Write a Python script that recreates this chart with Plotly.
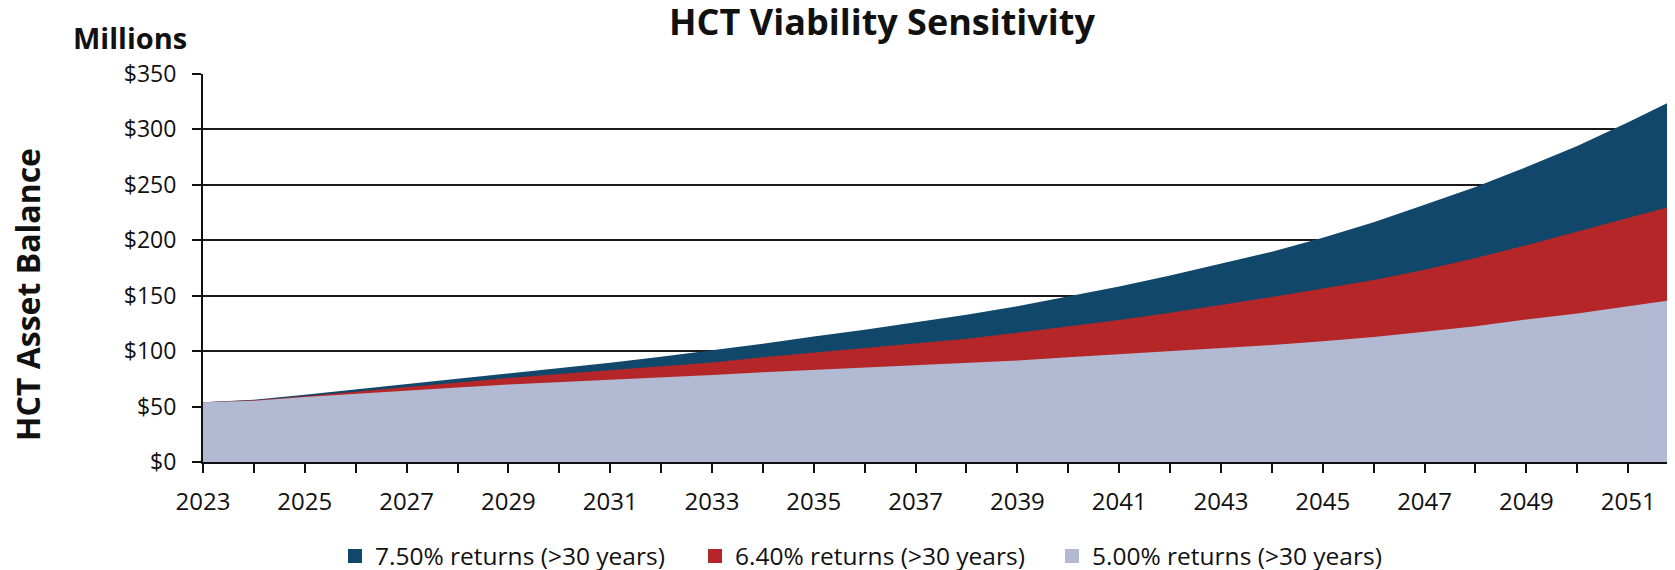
import plotly.graph_objects as go

years = list(range(2023, 2053))

returns_750 = [54.0, 56.2, 60.7, 65.5, 70.1, 74.6, 79.4, 84.5, 89.6, 95.0,
               100.5, 106.6, 113.3, 119.3, 126.0, 132.9, 140.6, 149.3, 158.4, 168.2,
               178.7, 189.7, 202.2, 216.3, 232.0, 248.0, 266.0, 285.0, 306.5, 329.0]
returns_640 = [54.0, 55.6, 59.2, 63.4, 67.6, 71.3, 75.8, 79.4, 83.0, 86.3,
               89.8, 94.6, 98.8, 102.7, 106.6, 111.2, 116.5, 122.2, 128.2, 134.6,
               141.5, 148.9, 156.5, 164.2, 173.5, 184.0, 195.5, 208.0, 220.5, 232.5]
returns_500 = [54.0, 55.3, 58.6, 61.6, 64.9, 67.3, 69.8, 71.9, 74.0, 75.8,
               78.4, 81.0, 83.1, 85.2, 87.0, 89.1, 91.5, 94.5, 97.2, 99.6,
               102.5, 105.5, 109.0, 112.7, 117.5, 122.5, 128.5, 134.0, 140.5, 147.0]

series_names = ["7.50% returns (>30 years)", "6.40% returns (>30 years)", "5.00% returns (>30 years)"]
series_values = [returns_750, returns_640, returns_500]
series_colors = ["#11476A", "#B42627", "#B2B9D2"]

OFF = 8  # page body margin
W, H = 1675 - OFF, 570 - OFF
L, R, T, B = 203 - OFF, 0, 74 - OFF, H - (462 - OFF)
PW, PH = W - L - R, H - T - B

def px_x(sx):
    return (sx - OFF - L) / PW

def px_y(sy):
    return (H - B - (sy - OFF)) / PH

TICK_FONT = dict(family="Open Sans", size=24, color="#111")
LEG_FONT = dict(family="Open Sans", size=24.5, color="#111")

fig = go.Figure()
legend_ids = ["legend", "legend2", "legend3"]
for name, vals, col in zip(series_names, series_values, series_colors):
    fig.add_trace(go.Scatter(
        x=years, y=vals, mode="lines", fill="tozeroy",
        fillcolor=col, line=dict(width=0, color=col),
        name=name, showlegend=False, hoverinfo="x+y+name"))
for name, col, lid in zip(series_names, series_colors, legend_ids):
    fig.add_trace(go.Scatter(
        x=[None], y=[None], mode="markers", name=name, legend=lid,
        marker=dict(symbol="square", size=14, color=col), showlegend=True))

legend_left_screen = [335, 695, 1052]
common_legend = dict(orientation="h", yanchor="middle", xanchor="left",
                     xref="container", yref="container",
                     font=LEG_FONT, bgcolor="rgba(0,0,0,0)", borderwidth=0)
leg_y = 1 - (556 - OFF) / H

fig.update_layout(
    width=W, height=H,
    margin=dict(l=L, r=R, t=T, b=B, pad=0, autoexpand=False),
    paper_bgcolor="white", plot_bgcolor="white",
    title=dict(text="<b>HCT Viability Sensitivity</b>", x=(882 - OFF) / W, xanchor="center",
               y=1 - (22 - OFF) / H, yanchor="middle", xref="container", yref="container",
               font=dict(family="Open Sans", size=36, color="#111")),
    legend=dict(x=(legend_left_screen[0] - OFF) / W, y=leg_y, **common_legend),
    legend2=dict(x=(legend_left_screen[1] - OFF) / W, y=leg_y, **common_legend),
    legend3=dict(x=(legend_left_screen[2] - OFF) / W, y=leg_y, **common_legend),
    xaxis=dict(range=[2023, 2051.92], tickmode="linear", tick0=2023, dtick=2,
               automargin=False,
               showgrid=False, zeroline=False, showline=True, linecolor="#111", linewidth=2,
               ticks="outside", ticklen=9, tickwidth=2, tickcolor="#111",
               minor=dict(ticks="outside", tick0=2023, dtick=1, ticklen=9, tickwidth=2,
                          tickcolor="#111", showgrid=False),
               tickfont=TICK_FONT, ticklabelstandoff=8),
    yaxis=dict(range=[0, 350], tickmode="linear", tick0=0, dtick=50, tickprefix="$",
               automargin=False,
               showgrid=True, gridcolor="#1a1a1a", gridwidth=2, zeroline=False,
               showline=True, linecolor="#111", linewidth=2,
               ticks="outside", ticklen=9, tickwidth=2, tickcolor="#111",
               tickfont=dict(family="Open Sans", size=23, color="#111"), ticklabelstandoff=11),
    annotations=[
        dict(text="<b>Millions</b>", x=px_x(129.5), y=px_y(37.5), xref="paper", yref="paper",
             xanchor="center", yanchor="middle", showarrow=False,
             font=dict(family="Open Sans", size=29, color="#111")),
        dict(text="<b>HCT Asset Balance</b>", x=px_x(27), y=px_y(295), xref="paper", yref="paper",
             xanchor="center", yanchor="middle", showarrow=False, textangle=-90,
             font=dict(family="Open Sans", size=32, color="#111")),
    ],
)

fig.write_html("out.html")
